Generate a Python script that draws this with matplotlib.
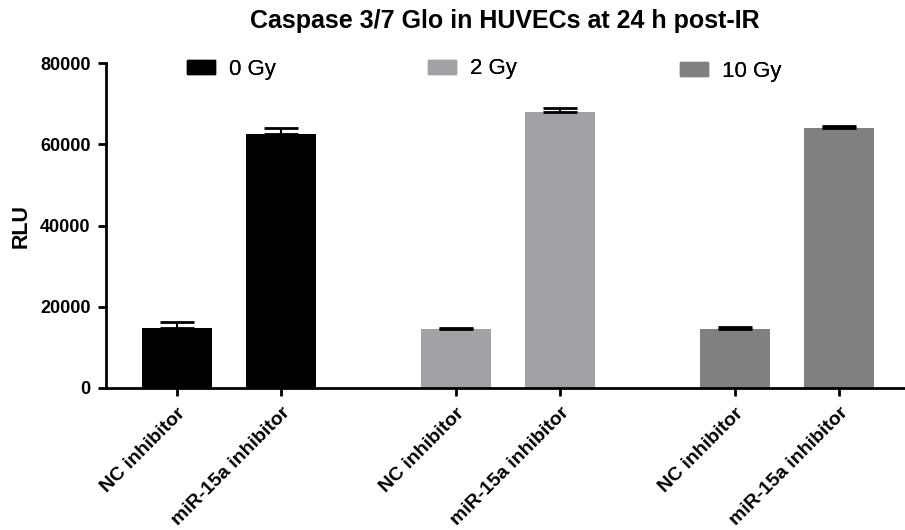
import numpy as np
import matplotlib.pyplot as plt
from matplotlib.patches import Patch

plt.rcParams['font.family'] = ['Liberation Sans', 'DejaVu Sans']

# data
doses = ['0 Gy', '2 Gy', '10 Gy']
treatments = ['NC inhibitor', 'miR-15a inhibitor']
means = [[14700, 62500], [14400, 68000], [14400, 63900]]
errs = [[1600, 1600], [400, 900], [500, 600]]
colors = ['#000000', '#a2a1a6', '#808080']

fig = plt.figure(figsize=(9.05, 5.30), dpi=100)
ax = fig.add_axes([0.117, 0.268, 0.882, 0.613])

group_step = 2.675
pos = []
labels = []
handles = []
for g, dose in enumerate(doses):
    x = g * group_step + np.arange(len(treatments))
    ax.bar(x, means[g], width=0.67, color=colors[g], zorder=2)
    # GraphPad style: only upper error bar
    ax.errorbar(x, means[g], yerr=[np.zeros(len(x)), errs[g]], fmt='none',
                ecolor='black', elinewidth=1.5, capsize=12.5, capthick=2, zorder=3)
    pos.extend(x)
    labels.extend(treatments)
    handles.append(Patch(color=colors[g], label=dose))

ax.set_xlim(-0.68, 6.97)
ax.set_ylim(0, 80000)
ax.set_yticks([0, 20000, 40000, 60000, 80000])
ax.set_xticks(pos)
ax.set_xticklabels(labels, rotation=45, ha='right', rotation_mode='anchor',
                   fontweight='bold', fontsize=14)
for t in ax.get_yticklabels():
    t.set_fontweight('bold')
    t.set_fontsize(13)

for s in ['top', 'right']:
    ax.spines[s].set_visible(False)
for s in ['left', 'bottom']:
    ax.spines[s].set_linewidth(2)
ax.tick_params(axis='both', direction='out', length=6, width=2, pad=5)
ax.tick_params(axis='x', pad=6)

ax.set_ylabel('RLU', fontweight='bold', fontsize=15.5, labelpad=6)
ax.set_title('Caspase 3/7 Glo in HUVECs at 24 h post-IR', fontweight='bold',
             fontsize=18, pad=25)

# three legend entries placed separately across the top
leg_x = [0.2066, 0.473, 0.751]
leg_y = [0.869, 0.870, 0.865]
for h, lx, ly in zip(handles, leg_x, leg_y):
    lg = fig.legend(handles=[h], loc='center left', bbox_to_anchor=(lx, ly),
                    frameon=False, fontsize=16, handlelength=1.27,
                    handleheight=0.6, handletextpad=0.63, borderpad=0,
                    borderaxespad=0)
    fig.add_artist(lg)

fig.savefig('out.png', dpi=100)
